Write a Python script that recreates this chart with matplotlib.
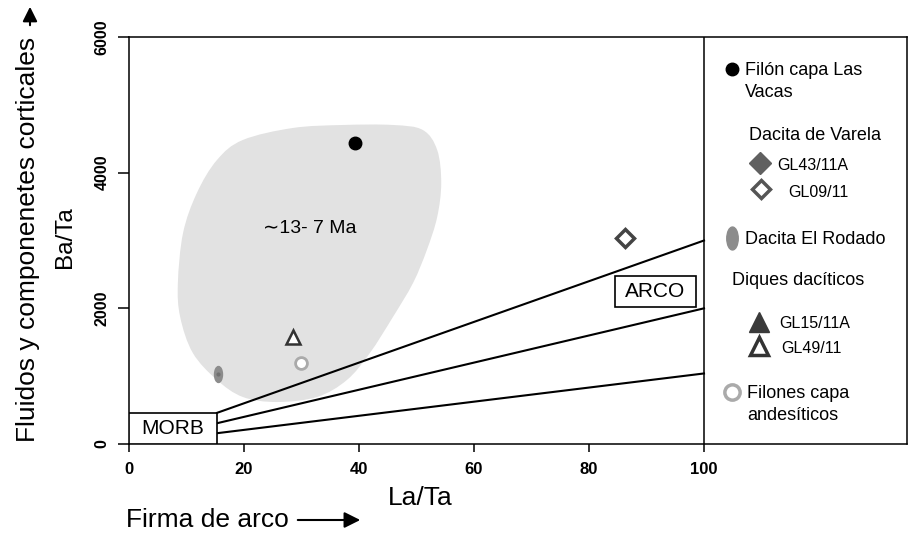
import numpy as np
import matplotlib
matplotlib.use("Agg")
import matplotlib.pyplot as plt
from matplotlib.path import Path
from matplotlib.patches import PathPatch, Rectangle, FancyArrowPatch
from matplotlib.transforms import Affine2D

plt.rcParams['font.family'] = ['Liberation Sans', 'DejaVu Sans']

# samples (La/Ta, Ba/Ta)
las_vacas_x, las_vacas_y = [39.3], [4440]
gl09_x, gl09_y = [86.3], [3040]
rodado_x, rodado_y = [15.5], [1030]
gl49_x, gl49_y = [28.5], [1580]
andes_x, andes_y = [29.9], [1195]

# Ba/La reference lines (through origin), drawn from MORB box edge to La/Ta = 100
line_slopes = [30, 20, 10.4]
line_x = [15.3, 100]

morb_box = [0, 0, 15.3, 459]
arco_box = [84.5, 2020, 98.6, 2477]

# outline of the ~13-7 Ma field
field_x = [45.9, 51.1, 53.6, 54.3, 53.6, 51.8, 49.4, 45.9, 41.9, 37.9, 32.7, 25.7,
           19.8, 15.3, 11.1, 8.9, 8.5, 9.4, 11.8, 15.3, 19.8, 28.5, 37.2]
field_y = [4703, 4629, 4334, 3848, 3347, 2860, 2374, 1872, 1342, 944, 693, 619,
           693, 944, 1342, 1872, 2374, 3111, 3700, 4187, 4482, 4659, 4703]

x_ticks = [0, 20, 40, 60, 80, 100]
y_ticks = [0, 2000, 4000, 6000]


def smooth_closed(xs, ys):
    p = np.column_stack([xs, ys])
    n = len(p)
    verts = [p[0]]
    codes = [Path.MOVETO]
    for i in range(n):
        p0, p1, p2, p3 = p[i - 1], p[i], p[(i + 1) % n], p[(i + 2) % n]
        verts += [p1 + (p2 - p0) / 6, p2 - (p3 - p1) / 6, p2]
        codes += [Path.CURVE4] * 3
    return Path(verts, codes)


ellipse = Path.unit_circle().transformed(Affine2D().scale(0.5, 1.0))

W, H = 910, 536
fig = plt.figure(figsize=(W / 100, H / 100), dpi=100)
ax = fig.add_axes([129 / W, 1 - 444 / H, (907 - 129) / W, (444 - 37) / H])
ax.set_xlim(0, (907 - 129) / 5.75)
ax.set_ylim(0, 6000)

for s in ax.spines.values():
    s.set_linewidth(1.1)

ax.add_patch(PathPatch(smooth_closed(field_x, field_y), facecolor='#e2e2e2',
                       edgecolor='none', zorder=1))
ax.text(31.5, 3184, '∼13- 7 Ma', fontsize=14, ha='center', va='center', zorder=3)

for k in line_slopes:
    ax.plot(line_x, [k * v for v in line_x], color='black', lw=1.5, zorder=2)
ax.axvline(100, color='black', lw=1.1, zorder=2)

ax.add_patch(Rectangle((morb_box[0], morb_box[1]), morb_box[2] - morb_box[0],
                       morb_box[3] - morb_box[1], facecolor='white',
                       edgecolor='black', lw=1.2, zorder=3))
ax.text((morb_box[0] + morb_box[2]) / 2, (morb_box[1] + morb_box[3]) / 2, 'MORB',
        fontsize=15, ha='center', va='center', zorder=4)
ax.add_patch(Rectangle((arco_box[0], arco_box[1]), arco_box[2] - arco_box[0],
                       arco_box[3] - arco_box[1], facecolor='white',
                       edgecolor='black', lw=1.2, zorder=3))
ax.text((arco_box[0] + arco_box[2]) / 2, (arco_box[1] + arco_box[3]) / 2, 'ARCO',
        fontsize=15, ha='center', va='center', zorder=4)

ax.plot(las_vacas_x, las_vacas_y, 'o', ms=9, color='black', zorder=5)
ax.plot(gl09_x, gl09_y, 'D', ms=9, mfc='white', mec='#444444', mew=2.5, zorder=5)
ax.plot(rodado_x, rodado_y, marker=ellipse, ls='none', ms=11.5, color='#8c8c8c', zorder=5)
ax.plot(rodado_x, rodado_y, 'o', ms=2, color='#707070', zorder=6)
ax.plot(gl49_x, gl49_y, '^', ms=10, mfc='white', mec='#333333', mew=1.8, zorder=5)
ax.plot(andes_x, andes_y, 'o', ms=8.5, mfc='white', mec='#aaaaaa', mew=2, zorder=5)

ax.set_xticks(x_ticks)
ax.set_xticklabels([str(v) for v in x_ticks], fontsize=12, fontweight='bold')
ax.set_yticks(y_ticks)
ax.set_yticklabels([str(v) for v in y_ticks], fontsize=11.5, fontweight='bold',
                   rotation=90, va='center')
ax.tick_params(axis='x', direction='out', length=6, width=1.1, pad=7)
ax.tick_params(axis='y', direction='out', length=8, width=1.1, pad=6)


def fp(x, y):
    return x / W, 1 - y / H


# legend (drawn in figure pixels of the reference layout)
def lmark(x, y, **kw):
    ax.plot(*fp(x, y), transform=fig.transFigure, clip_on=False, ls='none', **kw)


def ltext(x, y, s, size=13):
    fig.text(*fp(x, y), s, fontsize=size, va='baseline', ha='left')


lmark(732, 69, marker='o', ms=9, color='black')
ltext(745, 75, 'Filón capa Las')
ltext(745, 97, 'Vacas')
ltext(749, 140, 'Dacita de Varela')
lmark(760, 163, marker='D', ms=11, color='#606060')
ltext(777, 170, 'GL43/11A', 11.5)
lmark(761, 189, marker='D', ms=9, mfc='white', mec='#555555', mew=2.5)
ltext(788, 197, 'GL09/11', 11.5)
lmark(732, 238, marker=ellipse, ms=16.5, color='#8c8c8c')
ltext(745, 244, 'Dacita El Rodado')
ltext(732, 285, 'Diques dacíticos')
lmark(759, 322, marker='^', ms=15, color='#3a3a3a')
ltext(779, 328, 'GL15/11A', 11.5)
lmark(759, 346, marker='^', ms=13, mfc='white', mec='#333333', mew=2.5)
ltext(781, 353, 'GL49/11', 11.5)
lmark(732, 392, marker='o', ms=11, mfc='white', mec='#aaaaaa', mew=2.5)
ltext(747, 398, 'Filones capa')
ltext(747, 420, 'andesíticos')

# axis titles
fig.text(*fp(65, 237), 'Ba/Ta', fontsize=17.5, rotation=90, ha='center', va='center')
fig.text(*fp(28, 239), 'Fluidos y componenetes corticales', fontsize=19,
         rotation=90, ha='center', va='center')
fig.text(*fp(420, 505), 'La/Ta', fontsize=19, ha='center', va='baseline')
fig.text(*fp(207, 527), 'Firma de arco', fontsize=19, ha='center', va='baseline')

fig.add_artist(FancyArrowPatch(fp(30, 28), fp(30, 4), transform=fig.transFigure,
                               arrowstyle='-|>', mutation_scale=22,
                               color='black', lw=1.5))
fig.add_artist(FancyArrowPatch(fp(295, 520), fp(363, 520), transform=fig.transFigure,
                               arrowstyle='-|>', mutation_scale=24,
                               color='black', lw=1.5))

fig.savefig('out.png', dpi=100)
